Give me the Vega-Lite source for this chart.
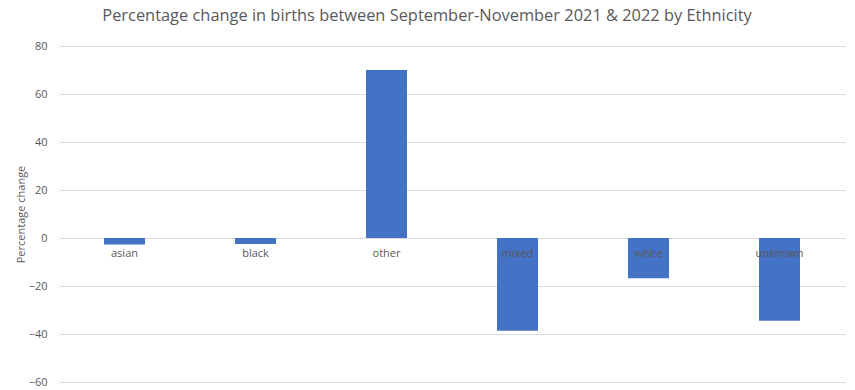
{
  "$schema": "https://vega.github.io/schema/vega-lite/v6.json",
  "autosize": "none",
  "width": 786,
  "height": 336,
  "padding": {"left": 59, "top": 46, "right": 10, "bottom": 8},
  "background": "white",
  "title": {
    "text": "Percentage change in births between September-November 2021 & 2022 by Ethnicity",
    "font": "Open Sans",
    "fontSize": 16.4,
    "fontWeight": "normal",
    "color": "#595959",
    "anchor": "middle",
    "dx": -25,
    "offset": 16
  },
  "data": {
    "values": [
      {"ethnicity": "asian", "change": -2.7},
      {"ethnicity": "black", "change": -2.5},
      {"ethnicity": "other", "change": 70},
      {"ethnicity": "mixed", "change": -38.6},
      {"ethnicity": "white", "change": -16.8},
      {"ethnicity": "unknown", "change": -34.5}
    ]
  },
  "mark": {"type": "bar", "color": "#4472c4", "size": 41},
  "encoding": {
    "x": {
      "field": "ethnicity",
      "type": "nominal",
      "sort": null,
      "scale": {"paddingInner": 0, "paddingOuter": 0},
      "axis": {
        "title": null,
        "offset": -144,
        "zindex": 1,
        "domain": false,
        "ticks": false,
        "labelAngle": 0,
        "labelPadding": 9,
        "labelFont": "Open Sans",
        "labelFontSize": 11,
        "labelColor": "#595959"
      }
    },
    "y": {
      "field": "change",
      "type": "quantitative",
      "scale": {"domain": [-60, 80], "nice": false},
      "axis": {
        "title": "Percentage change",
        "titleFont": "Open Sans",
        "titleFontSize": 11,
        "titleFontWeight": "normal",
        "titleColor": "#595959",
        "titlePadding": 2,
        "values": [-60, -40, -20, 0, 20, 40, 60, 80],
        "domain": false,
        "ticks": false,
        "labelPadding": 12,
        "labelFont": "Open Sans",
        "labelFontSize": 11,
        "labelColor": "#595959",
        "gridColor": "#d9d9d9",
        "gridWidth": 1
      }
    }
  },
  "config": {"view": {"stroke": null}}
}
